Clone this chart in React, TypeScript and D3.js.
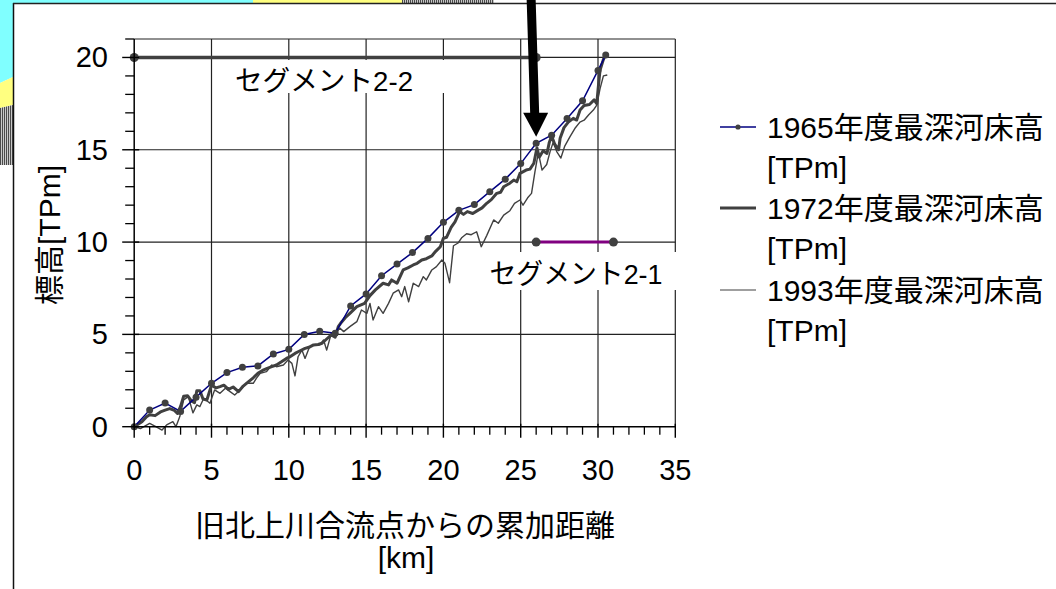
import React from "react";
import * as d3 from "d3";

// distance from the old Kitakami confluence [km] vs. deepest riverbed elevation [TPm]
const kmTicks = [0, 5, 10, 15, 20, 25, 30, 35];
const elevTicks = [0, 5, 10, 15, 20];

const bed1965: [number, number][] = [
  [0, 0], [1, 0.9], [2, 1.28], [3, 0.83], [4, 1.6], [5, 2.35], [6, 2.93], [7, 3.22],
  [8, 3.29], [9, 3.94], [10, 4.19], [11, 5.0], [12, 5.17], [13, 5.06], [14, 6.54],
  [15, 7.19], [16, 8.18], [17, 8.81], [18, 9.43], [19, 10.2], [20, 11.07], [21, 11.72],
  [22, 12.03], [23, 12.73], [24, 13.41], [25, 14.25], [26, 15.35], [27, 15.79],
  [28, 16.7], [29, 17.65], [30, 19.3], [30.5, 20.13],
];

const bed1972: [number, number][] = [
  [0, 0], [0.5, 0.27], [0.8, 0.54], [1.0, 0.65], [1.35, 0.6], [1.7, 0.8], [2.0, 0.9],
  [2.3, 0.98], [2.6, 0.88], [2.8, 0.72], [3.0, 1.1], [3.2, 1.65], [3.45, 1.68], [3.7, 1.4],
  [3.9, 1.3], [4.05, 1.95], [4.25, 1.95], [4.45, 1.5], [4.7, 1.45], [5.0, 2.25], [5.3, 2.1],
  [5.55, 2.17], [5.8, 2.25], [6.1, 2.02], [6.4, 2.15], [6.75, 1.9], [7.05, 2.2], [7.4, 2.44],
  [7.7, 2.65], [8.0, 2.89], [8.3, 3.05], [8.6, 3.16], [8.9, 3.25], [9.2, 3.34], [9.5, 3.5],
  [9.85, 3.7], [10.1, 3.8], [10.4, 3.97], [10.7, 4.1], [11.05, 4.24], [11.3, 4.3],
  [11.6, 4.43], [11.9, 4.45], [12.15, 4.52], [12.45, 4.75], [12.75, 4.97], [13.0, 4.85],
  [13.2, 5.42], [13.35, 5.6], [13.65, 5.9], [13.95, 6.14], [14.4, 6.5], [14.9, 6.68],
  [15.25, 7.1], [15.6, 7.41], [16.1, 7.77], [16.45, 7.68], [16.65, 7.95], [17.0, 7.77],
  [17.4, 8.49], [17.7, 8.6], [18.05, 8.76], [18.3, 8.85], [18.6, 9.03], [18.9, 9.1],
  [19.25, 9.25], [19.5, 9.5], [19.8, 9.75], [20.0, 10.2], [20.2, 10.26], [20.5, 10.8],
  [20.75, 11.1], [21.05, 11.65], [21.3, 11.5], [21.55, 11.65], [21.9, 11.55], [22.25, 11.73],
  [22.5, 11.85], [22.8, 12.1], [23.1, 12.3], [23.45, 12.64], [23.7, 12.7], [23.9, 13.0],
  [24.3, 13.19], [24.55, 13.36], [24.75, 13.27], [24.95, 13.72], [25.35, 13.9], [25.6, 13.95],
  [25.85, 14.27], [26.05, 15.1], [26.2, 14.6], [26.45, 14.95], [26.7, 14.8], [26.85, 15.4],
  [27.0, 15.75], [27.2, 15.3], [27.45, 15.0], [27.55, 15.62], [27.8, 16.2], [28.08, 16.5],
  [28.4, 16.7], [28.62, 16.61], [28.84, 17.15], [29.1, 17.4], [29.45, 17.45], [29.75, 17.7],
  [29.92, 17.5], [30.02, 18.4], [30.13, 19.3], [30.34, 19.87], [30.5, 20.2],
];

const bed1993: [number, number][] = [
  [0, 0], [0.4, -0.1], [1.0, 0.18], [1.4, 0.0], [1.8, -0.18], [2.1, 0.1], [2.5, 0.27],
  [2.7, 0.0], [2.95, 0.55], [3.2, 1.45], [3.5, 1.63], [3.8, 0.75], [4.05, 1.18], [4.25, 1.09],
  [4.5, 1.54], [4.9, 1.27], [5.2, 1.99], [5.55, 1.81], [5.9, 2.08], [6.2, 1.9], [6.5, 1.72],
  [6.85, 1.99], [7.25, 2.35], [7.7, 2.35], [7.9, 2.62], [8.15, 2.89], [8.55, 2.98],
  [8.9, 3.34], [9.2, 3.25], [9.65, 3.34], [9.95, 3.61], [10.2, 3.43], [10.4, 2.75],
  [10.6, 3.79], [10.85, 4.15], [11.05, 3.7], [11.35, 4.34], [11.7, 4.43], [12.0, 4.43],
  [12.25, 4.7], [12.45, 4.15], [12.75, 5.06], [13.1, 5.15], [13.3, 5.35], [13.55, 5.15],
  [13.95, 5.42], [14.4, 5.69], [14.7, 6.32], [15.05, 6.14], [15.25, 6.68], [15.45, 5.78],
  [15.8, 6.5], [16.1, 6.14], [16.45, 6.68], [16.75, 7.23], [17.1, 7.41], [17.3, 7.04],
  [17.5, 7.59], [17.75, 6.77], [18.05, 7.77], [18.4, 7.59], [18.7, 8.13], [18.9, 7.95],
  [19.25, 8.49], [19.55, 8.67], [19.9, 9.03], [20.1, 8.85], [20.4, 7.8], [20.65, 9.8],
  [20.95, 9.95], [21.2, 10.25], [21.5, 10.45], [21.8, 10.4], [22.15, 10.56], [22.45, 9.75],
  [22.8, 10.35], [23.25, 11.2], [23.55, 11.02], [23.9, 11.46], [24.3, 11.7], [24.6, 12.1],
  [24.95, 12.28], [25.15, 12.0], [25.45, 12.4], [25.7, 12.64], [25.92, 13.8], [26.14, 14.85],
  [26.38, 13.9], [26.68, 14.2], [26.9, 14.9], [27.1, 15.4], [27.33, 14.9], [27.6, 14.55],
  [27.85, 15.2], [28.19, 15.71], [28.5, 16.15], [28.83, 16.5], [29.1, 16.6], [29.4, 16.9],
  [29.7, 17.15], [29.92, 17.42], [30.13, 18.3], [30.35, 19.0], [30.6, 19.05],
];

const segment22: [number, number][] = [[0, 20], [26, 20]];
const segment21: [number, number][] = [[26, 10], [31, 10]];
const arrowTip: [number, number] = [26, 15.7];

const legendLabels = ["1965年度最深河床高", "1972年度最深河床高", "1993年度最深河床高"];

const W = 1056;
const H = 589;
const FONT = "'Liberation Sans', Arial, 'Noto Sans CJK JP', sans-serif";
const DARK = "#404040";

export default function App() {
  const x = d3.scaleLinear().domain([0, 35]).range([134.2, 675.3]);
  const y = d3.scaleLinear().domain([0, 21]).range([426.7, 39]);
  const line = d3
    .line<[number, number]>()
    .x((d) => x(d[0]))
    .y((d) => y(d[1]));

  const minorX = d3.range(0, 36).filter((v) => v % 5 !== 0);
  const minorY = d3.range(0, 22).filter((v) => v % 5 !== 0);
  const x0 = x(0);
  const y0 = y(0);

  // arrow pointing at the 26 km marker
  const tipX = x(arrowTip[0]);
  const tipY = y(arrowTip[1]);
  const arrowPts = [
    [tipX - 9.5, 0], [tipX - 0.5, 0], [tipX + 3, tipY - 24], [tipX + 12, tipY - 24],
    [tipX, tipY], [tipX - 13, tipY - 24], [tipX - 6, tipY - 24],
  ];

  const legendRows = [127, 208, 290];

  return (
    <svg
      width={W}
      height={H}
      style={{ position: "absolute", left: 0, top: 0, background: "#fff" }}
      fontFamily={FONT}
    >
      <defs>
        <pattern id="stripes" width="2" height="4" patternUnits="userSpaceOnUse">
          <rect width="1" height="4" fill="#4a4a4a" />
          <rect x="1" width="1" height="4" fill="#c8c8c8" />
        </pattern>
      </defs>

      {/* slide decoration */}
      <rect x={0} y={0} width={253} height={3} fill="#80ffff" />
      <rect x={253} y={0} width={149} height={3} fill="#ffff80" />
      <rect x={402} y={0} width={92} height={3} fill="url(#stripes)" />
      <polygon points="0,0 13,0 13,77 0,83" fill="#80ffff" />
      <polygon points="0,83 13,77 13,105 0,108" fill="#ffff80" />
      <polygon points="0,108 13,105 13,165 0,165" fill="url(#stripes)" />
      <line x1={13.5} y1={3} x2={13.5} y2={H} stroke="#111" strokeWidth={1.5} />
      <line x1={13} y1={3.5} x2={W} y2={3.5} stroke="#222" strokeWidth={1.5} />

      {/* grid */}
      {kmTicks.slice(1).map((k) => (
        <line key={`gx${k}`} x1={x(k)} x2={x(k)} y1={y(0)} y2={y(21)} stroke="#222" strokeWidth={1.2} />
      ))}
      {elevTicks.slice(1).concat([21]).map((v) => (
        <line key={`gy${v}`} x1={x(0)} x2={x(35)} y1={y(v)} y2={y(v)} stroke="#222" strokeWidth={1.2} />
      ))}

      {/* series */}
      <path d={line(bed1993) ?? ""} fill="none" stroke={DARK} strokeWidth={1.4} strokeLinejoin="round" />
      <path d={line(bed1972) ?? ""} fill="none" stroke={DARK} strokeWidth={3} strokeLinejoin="round" />
      <path d={line(bed1965) ?? ""} fill="none" stroke="#000080" strokeWidth={1.5} />
      {bed1965.map((d, i) => (
        <circle key={`m${i}`} cx={x(d[0])} cy={y(d[1])} r={3.5} fill={DARK} />
      ))}

      {/* segments */}
      <path d={line(segment22) ?? ""} stroke={DARK} strokeWidth={3.4} fill="none" />
      {segment22.map((d, i) => (
        <circle key={`s22${i}`} cx={x(d[0])} cy={y(d[1])} r={4.5} fill={DARK} />
      ))}
      <path d={line(segment21) ?? ""} stroke="#800080" strokeWidth={3} fill="none" />
      {segment21.map((d, i) => (
        <circle key={`s21${i}`} cx={x(d[0])} cy={y(d[1])} r={4.5} fill={DARK} />
      ))}

      <rect x={225} y={60} width={232} height={33} fill="#fff" />
      <text x={324} y={81} fontSize={28} textAnchor="middle" dominantBaseline="central" textLength={178} lengthAdjust="spacingAndGlyphs">
        セグメント2-2
      </text>
      <rect x={478} y={252} width={202} height={38} fill="#fff" />
      <text x={576} y={274} fontSize={28} textAnchor="middle" dominantBaseline="central" textLength={173} lengthAdjust="spacingAndGlyphs">
        セグメント2-1
      </text>

      {/* axes */}
      <line x1={x0} x2={x0} y1={y(0)} y2={y(21)} stroke="#000" strokeWidth={1.5} />
      <line x1={x(0)} x2={x(35)} y1={y0} y2={y0} stroke="#000" strokeWidth={1.5} />
      {elevTicks.map((v) => (
        <g key={`ty${v}`}>
          <line x1={x0 - 12} x2={x0 + 5} y1={y(v)} y2={y(v)} stroke="#000" strokeWidth={1.4} />
          <text x={108} y={y(v)} fontSize={29} textAnchor="end" dominantBaseline="central">
            {v}
          </text>
        </g>
      ))}
      {minorY.map((v) => (
        <line key={`my${v}`} x1={x0 - 9} x2={x0} y1={y(v)} y2={y(v)} stroke="#000" strokeWidth={1.3} />
      ))}
      {kmTicks.map((k) => (
        <g key={`tx${k}`}>
          <line x1={x(k)} x2={x(k)} y1={y0 - 3} y2={y0 + 11} stroke="#000" strokeWidth={1.4} />
          <text x={x(k)} y={470} fontSize={29} textAnchor="middle" dominantBaseline="central">
            {k}
          </text>
        </g>
      ))}
      {minorX.map((k) => (
        <line key={`mx${k}`} x1={x(k)} x2={x(k)} y1={y0} y2={y0 + 8} stroke="#000" strokeWidth={1.3} />
      ))}

      <text x={405} y={525} fontSize={30} textAnchor="middle" dominantBaseline="central">
        旧北上川合流点からの累加距離
      </text>
      <text x={406} y={557} fontSize={30} textAnchor="middle" dominantBaseline="central">
        [km]
      </text>
      <text
        transform="translate(49,235) rotate(-90)"
        fontSize={30}
        textAnchor="middle"
        dominantBaseline="central"
      >
        標高[TPm]
      </text>

      {/* legend */}
      <line x1={720} x2={756} y1={legendRows[0]} y2={legendRows[0]} stroke="#000080" strokeWidth={1.5} />
      <circle cx={738} cy={legendRows[0]} r={2.6} fill={DARK} />
      <line x1={720} x2={756} y1={legendRows[1]} y2={legendRows[1]} stroke={DARK} strokeWidth={3} />
      <line x1={720} x2={756} y1={legendRows[2]} y2={legendRows[2]} stroke={DARK} strokeWidth={1.2} />
      {legendLabels.map((t, i) => (
        <g key={t} fontSize={30}>
          <text x={767} y={legendRows[i]} dominantBaseline="central">
            {t}
          </text>
          <text x={767} y={legendRows[i] + 40} dominantBaseline="central">
            [TPm]
          </text>
        </g>
      ))}

      {/* arrow */}
      <polygon points={arrowPts.map((p) => p.join(",")).join(" ")} fill="#000" />
    </svg>
  );
}
